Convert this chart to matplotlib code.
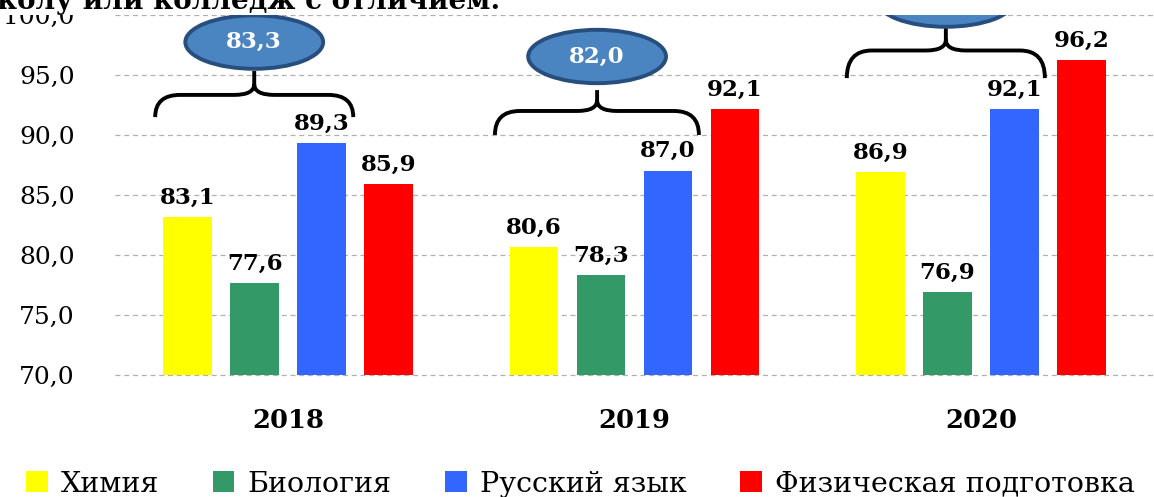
import matplotlib.pyplot as plt
from matplotlib.patches import Ellipse, Patch, Rectangle, PathPatch
from matplotlib.path import Path
import numpy as np

years = ['2018', '2019', '2020']
subjects = ['Химия', 'Биология', 'Русский язык', 'Физическая подготовка']
colors = ['#ffff00', '#339966', '#3366ff', '#ff0000']

himiya = [83.1, 80.6, 86.9]
biologiya = [77.6, 78.3, 76.9]
russkiy = [89.3, 87.0, 92.1]
fizra = [85.9, 92.1, 96.2]

bubble_values = [83.3, 82.0, None]   # 2020 value is cut off in the picture

title_tail = 'колу или колледж с отличием.'

# brace / bubble layout per group (x relative to group centre, y in data)
brace_left = [-0.384, -0.403, -0.387]
brace_right = [0.188, 0.186, 0.185]
brace_mid = [-0.098, -0.108, -0.101]
brace_end_y = [91.45, 89.96, 94.7]
brace_line_y = [93.3, 91.96, 97.0]
brace_tip_y = [95.3, 93.7, 98.96]
bubble_y = [97.7, 96.5, 101.2]

SERIF = 'DejaVu Serif'


def fmt(v):
    return f'{v:.1f}'.replace('.', ',')


def brace(ax, xc, x0, x1, yb, yh, yt):
    """Curly brace opening downwards, tip pointing up at xc

    """
    re_ = 0.072
    rm = 0.058
    ym = yh + 0.9
    verts = [(x0, yb), (x0, yh), (x0 + re_, yh),
             (xc - rm, yh), (xc, yh), (xc, ym),
             (xc, yt),
             (xc, ym), (xc, yh), (xc + rm, yh),
             (x1 - re_, yh), (x1, yh), (x1, yb)]
    codes = [Path.MOVETO, Path.CURVE3, Path.CURVE3,
             Path.LINETO, Path.CURVE3, Path.CURVE3,
             Path.LINETO,
             Path.MOVETO, Path.CURVE3, Path.CURVE3,
             Path.LINETO, Path.CURVE3, Path.CURVE3]
    ax.add_patch(PathPatch(Path(verts, codes), fill=False, color='black',
                           lw=2.8, capstyle='butt', joinstyle='round',
                           clip_on=False, zorder=4))


fig = plt.figure(figsize=(11.54, 4.97), dpi=100)
ax = fig.add_axes([115 / 1154, 1 - 374.5 / 497, 1 - 115 / 1154, 360 / 497])

series = [himiya, biologiya, russkiy, fizra]
x = np.arange(len(years))
step = 0.1934
width = 0.141
for i, (vals, col) in enumerate(zip(series, colors)):
    bars = ax.bar(x + (i - 1.5) * step, vals, width, color=col, zorder=2)
    ax.bar_label(bars, labels=[fmt(v) for v in vals], padding=6,
                 fontsize=16.5, fontweight='heavy', family=SERIF)

ax.set_xlim(-0.5, 2.5)
ax.set_ylim(70, 100)
ax.set_yticks(np.arange(70, 101, 5))
ax.set_yticklabels([fmt(v) for v in np.arange(70, 101, 5)], family=SERIF,
                   fontsize=18)
ax.set_xticks(x)
ax.set_xticklabels(years, family=SERIF, fontsize=18.5, fontweight='bold')
ax.tick_params(axis='y', length=0, pad=29)
ax.tick_params(axis='x', length=0, pad=24)
ax.yaxis.grid(True, ls=(0, (4, 3)), color='#b0b0b0', lw=0.9, zorder=0)
for gl in ax.get_ygridlines():
    gl.set_clip_on(False)
for s in ax.spines.values():
    s.set_visible(False)

for g in range(len(years)):
    brace(ax, g + brace_mid[g], g + brace_left[g], g + brace_right[g],
          brace_end_y[g], brace_line_y[g], brace_tip_y[g])
    ax.add_patch(Ellipse((g + brace_mid[g], bubble_y[g]), 0.398, 4.45,
                         facecolor='#4a84c1', edgecolor='#284e7e', lw=2.8,
                         clip_on=False, zorder=5))
    if bubble_values[g] is not None:
        ax.text(g + brace_mid[g], bubble_y[g], fmt(bubble_values[g]),
                ha='center', va='center', color='white', fontsize=16.5,
                fontweight='bold', family=SERIF, zorder=6, clip_on=False)

# top of the slide is cut off: white band with the tail of the title over it
band = Rectangle((0, 1 - 15 / 497), 1, 15 / 497, transform=fig.transFigure,
                 facecolor='white', edgecolor='none', zorder=10)
fig.add_artist(band)
fig.text(-0.003, 1 - 9 / 497, title_tail, ha='left', va='baseline',
         fontsize=20, fontweight='bold', family=SERIF, zorder=11)

handles = [Patch(facecolor=c, edgecolor='none') for c in colors]
fig.legend(handles, subjects, loc='center', ncol=4,
           bbox_to_anchor=(0.503, 1 - 484 / 497), frameon=False,
           prop={'family': SERIF, 'size': 20.5},
           handlelength=0.75, handleheight=0.75, handletextpad=0.45,
           columnspacing=1.9, borderpad=0)

fig.savefig('out.png', dpi=100)
